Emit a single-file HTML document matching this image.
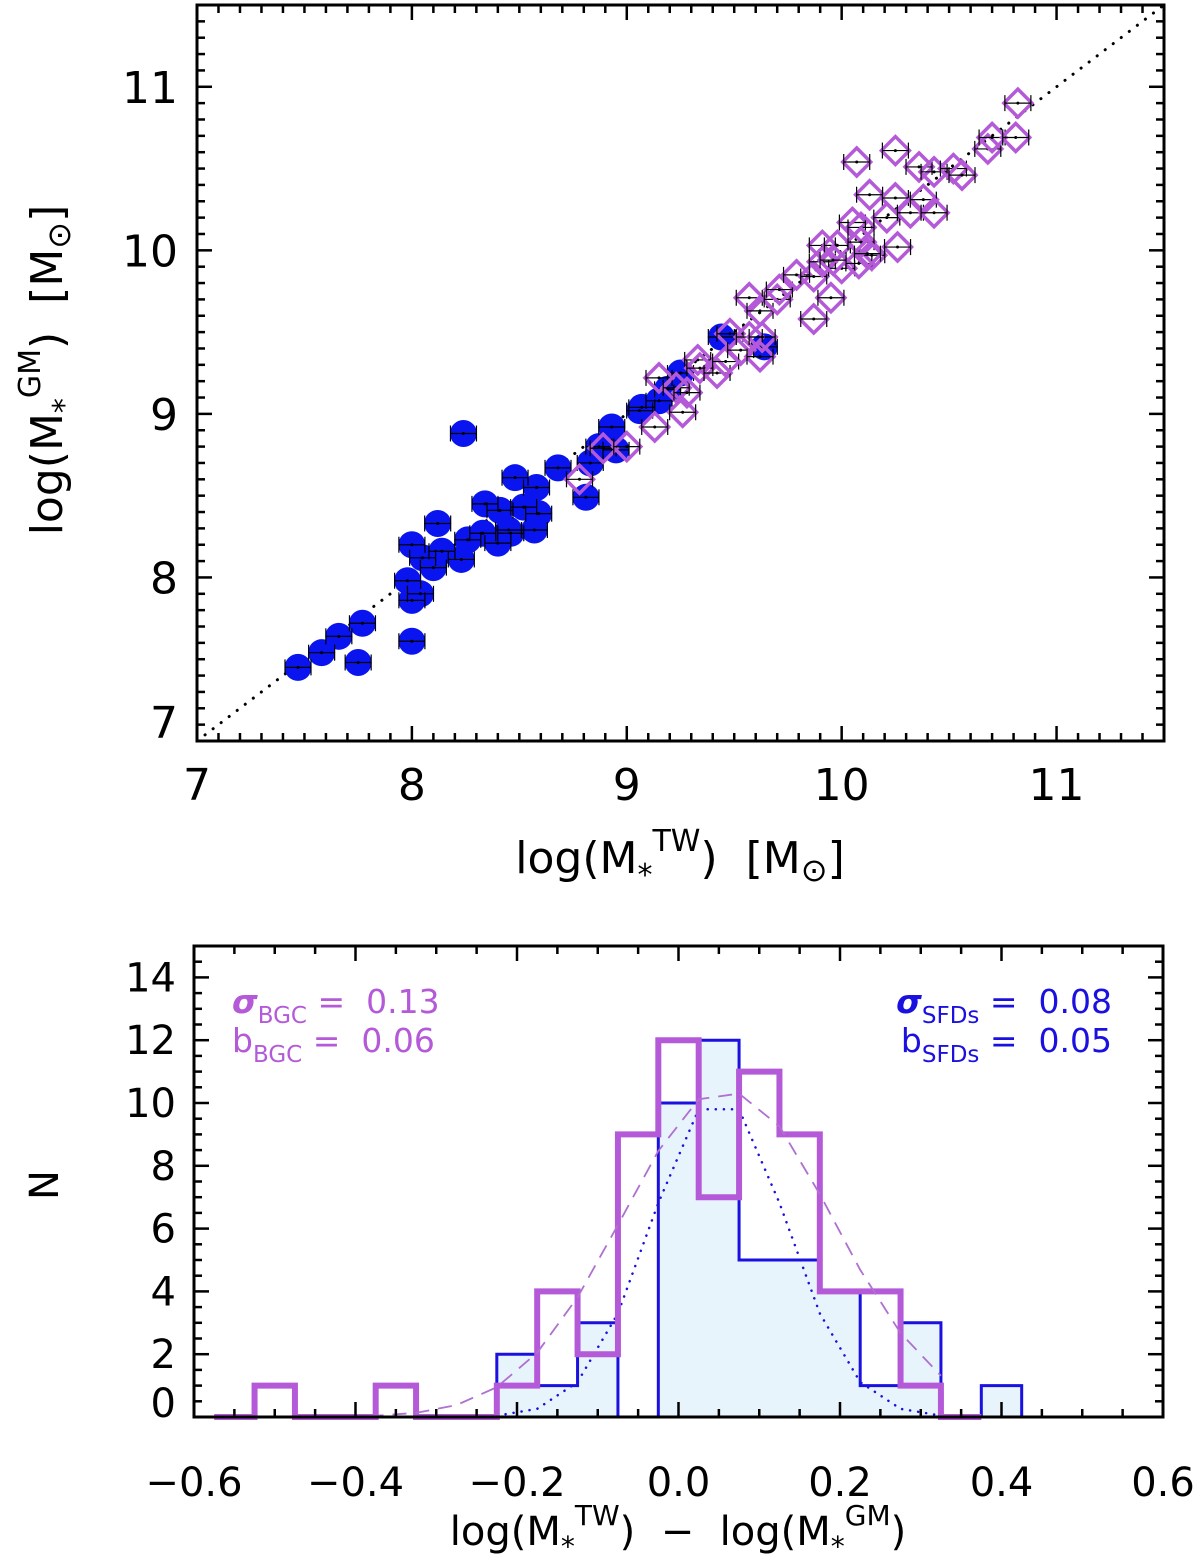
<!DOCTYPE html>
<html><head><meta charset="utf-8"><style>
html,body{margin:0;padding:0;background:#fff}
svg{display:block}
text{font-family:"DejaVu Sans","Liberation Sans",sans-serif;white-space:pre;}
</style></head><body>
<svg id="chart" width="1200" height="1564" viewBox="0 0 1200 1564" xmlns="http://www.w3.org/2000/svg" xml:space="preserve">
<g id="topPanel"></g>
<g id="botPanel"></g>
<g id="labels">
<text x="680" y="873" font-size="44" text-anchor="middle">log(M<tspan font-size="30" dy="12">*</tspan><tspan font-size="30" dy="-34">TW</tspan><tspan dy="22">)  [M</tspan><tspan font-size="32" dy="8">⊙</tspan><tspan dy="-8">]</tspan></text>
<text transform="translate(62,370) rotate(-90)" font-size="44" text-anchor="middle">log(M<tspan font-size="30" dy="12">*</tspan><tspan font-size="30" dy="-34">GM</tspan><tspan dy="22">)  [M</tspan><tspan font-size="32" dy="8">⊙</tspan><tspan dy="-8">]</tspan></text>
<text transform="translate(58,1185) rotate(-90)" font-size="40" text-anchor="middle">N</text>
<text x="678" y="1545" font-size="40" text-anchor="middle">log(M<tspan font-size="28" dy="11">*</tspan><tspan font-size="28" dy="-31">TW</tspan><tspan dy="20">)  −  log(M</tspan><tspan font-size="28" dy="11">*</tspan><tspan font-size="28" dy="-31">GM</tspan><tspan dy="20">)</tspan></text>
<text x="232" y="1013" font-size="33" fill="#b45ad8"><tspan font-style="italic" font-weight="bold">σ</tspan><tspan font-size="23" dy="10">BGC</tspan><tspan dy="-10"> =  0.13</tspan></text>
<text x="232" y="1052" font-size="33" fill="#b45ad8">b<tspan font-size="23" dy="10">BGC</tspan><tspan dy="-10"> =  0.06</tspan></text>
<text x="1112" y="1013" font-size="33" fill="#1a10e0" text-anchor="end"><tspan font-style="italic" font-weight="bold">σ</tspan><tspan font-size="23" dy="10">SFDs</tspan><tspan dy="-10"> =  0.08</tspan></text>
<text x="1112" y="1052" font-size="33" fill="#1a10e0" text-anchor="end">b<tspan font-size="23" dy="10">SFDs</tspan><tspan dy="-10"> =  0.05</tspan></text>
</g>
</svg>
<script>
const sfdsX=[7.47,7.58,7.66,7.77,7.75,8.00,7.98,8.04,8.00,8.00,8.05,8.12,8.24,8.10,8.14,8.23,8.26,8.34,8.33,8.40,8.41,8.45,8.48,8.52,8.58,8.59,8.57,8.46,8.68,8.81,8.83,8.93,8.95,8.87,9.06,9.44,9.64,9.07,9.19,9.25,9.15];
const sfdsY=[7.45,7.54,7.64,7.72,7.48,7.61,7.98,7.90,7.86,8.20,8.12,8.33,8.88,8.06,8.16,8.11,8.23,8.45,8.27,8.21,8.41,8.29,8.61,8.43,8.55,8.39,8.29,8.27,8.67,8.49,8.70,8.92,8.78,8.80,9.02,9.47,9.41,9.04,9.15,9.25,9.08];
const bgcX=[8.78,8.89,9.00,9.13,9.26,9.15,9.23,9.28,9.33,9.34,9.42,9.46,9.48,9.53,9.57,9.62,9.63,9.57,9.62,9.70,9.71,9.87,9.95,9.79,9.87,9.91,10.00,10.08,10.14,9.91,9.98,9.96,10.05,10.09,10.09,10.12,10.13,10.25,10.21,10.26,10.32,10.38,10.43,10.07,10.25,10.36,10.43,10.52,10.56,10.68,10.70,10.81,10.82];
const bgcY=[8.60,8.79,8.80,8.92,9.01,9.22,9.16,9.13,9.33,9.28,9.25,9.32,9.49,9.39,9.47,9.35,9.47,9.71,9.63,9.70,9.76,9.58,9.71,9.85,9.84,9.93,9.89,9.92,9.97,10.03,10.03,9.94,10.17,10.14,10.05,9.98,10.34,10.32,10.20,10.02,10.23,10.31,10.23,10.54,10.61,10.51,10.48,10.50,10.46,10.62,10.69,10.69,10.90];
const xTicksTop=[7,8,9,10,11];
const yTicksTop=[7,8,9,10,11];
const binEdgesStart=-0.575;
const binWidth=0.05;
const sfdsCounts=[0,0,0,0,0,0,0,2,1,3,0,10,12,5,5,4,1,3,0,1,0];
const bgcCounts=[0,1,0,0,1,0,0,1,4,2,9,12,7,11,9,4,4,1,0];
const xTicksBot=[-0.6,-0.4,-0.2,0.0,0.2,0.4,0.6];
const yTicksBot=[0,2,4,6,8,10,12,14];
const fitSfds=[9.8,0.05,0.083];
const fitBgc=[10.3,0.06,0.13];

const NS='http://www.w3.org/2000/svg';
function mk(tag,attrs,parent){const e=document.createElementNS(NS,tag);for(const k in attrs)e.setAttribute(k,attrs[k]);parent.appendChild(e);return e;}
const TA={x0:197,x1:1164,y0:741,y1:5,vmin:7,vmax:11.5};
const tx=v=>TA.x0+(v-TA.vmin)/(TA.vmax-TA.vmin)*(TA.x1-TA.x0);
const ty=v=>TA.y0-(v-TA.vmin)/(TA.vmax-TA.vmin)*(TA.y0-TA.y1);
const topG=document.getElementById('topPanel');
const oneLine=mk('line',{x1:tx(7),y1:ty(7),x2:tx(11.5),y2:ty(11.5),stroke:'#000','stroke-width':3,'stroke-dasharray':'0.1 10','stroke-linecap':'round'},topG);


function errbar(g,cx,cy){
  mk('line',{x1:cx-13,y1:cy,x2:cx+13,y2:cy,stroke:'#000','stroke-width':1.2},g);
  mk('line',{x1:cx-13,y1:cy-8,x2:cx-13,y2:cy+8,stroke:'#000','stroke-width':1.2},g);
  mk('line',{x1:cx+13,y1:cy-8,x2:cx+13,y2:cy+8,stroke:'#000','stroke-width':1.2},g);
  mk('circle',{cx:cx,cy:cy,r:1.5,fill:'#000'},g);
}
const gs=mk('g',{},topG);


for(let i=0;i<sfdsX.length;i++){
  const c=mk('circle',{cx:tx(sfdsX[i]),cy:ty(sfdsY[i]),r:13.5,fill:'#0a14ee'},gs);
  
  
}
for(let i=0;i<sfdsX.length;i++)errbar(gs,tx(sfdsX[i]),ty(sfdsY[i]));
const gb=mk('g',{},topG);


for(let i=0;i<bgcX.length;i++){
  const cx=tx(bgcX[i]),cy=ty(bgcY[i]),r=14;
  const p=mk('polygon',{points:`${cx},${cy-r} ${cx+r},${cy} ${cx},${cy+r} ${cx-r},${cy}`,fill:'none',stroke:'#b45ad8','stroke-width':3.5},gb);
  
  
  errbar(gb,cx,cy);
}
const fr=mk('rect',{x:TA.x0,y:TA.y1,width:TA.x1-TA.x0,height:TA.y0-TA.y1,fill:'none',stroke:'#000','stroke-width':3},topG);


for(let i=0;i<=45;i++){
  const v=7+i*0.1;
  const major=i%10===0,len=major?15:8,x=tx(v),y=ty(v);
  mk('line',{x1:x,y1:TA.y0,x2:x,y2:TA.y0-len,stroke:'#000','stroke-width':2.5},topG);
  mk('line',{x1:x,y1:TA.y1,x2:x,y2:TA.y1+len,stroke:'#000','stroke-width':2.5},topG);
  mk('line',{x1:TA.x0,y1:y,x2:TA.x0+len,y2:y,stroke:'#000','stroke-width':2.5},topG);
  mk('line',{x1:TA.x1,y1:y,x2:TA.x1-len,y2:y,stroke:'#000','stroke-width':2.5},topG);
}
xTicksTop.forEach(v=>{const t=mk('text',{x:tx(v),y:800,'font-size':44,'text-anchor':'middle'},topG);t.textContent=v;

});
yTicksTop.forEach(v=>{const t=mk('text',{x:178,y:ty(v)+(v===7?-3:16),'font-size':44,'text-anchor':'end'},topG);t.textContent=v;

});

const BA={x0:194,x1:1163,y0:1417,y1:946,xmin:-0.6,xmax:0.6,ymax:15};
const bx=v=>BA.x0+(v-BA.xmin)/(BA.xmax-BA.xmin)*(BA.x1-BA.x0);
const by=v=>BA.y0-v/BA.ymax*(BA.y0-BA.y1);
const botG=document.getElementById('botPanel');
function histPath(counts){
  let d=`M${bx(binEdgesStart)},${by(0)}`;
  counts.forEach((c,i)=>{const a=binEdgesStart+i*binWidth;d+=` L${bx(a)},${by(c)} L${bx(a+binWidth)},${by(c)}`;});
  d+=` L${bx(binEdgesStart+counts.length*binWidth)},${by(0)}`;return d;
}
const pf=mk('path',{d:histPath(sfdsCounts)+' Z',fill:'#e8f4fc',stroke:'none'},botG);


mk('line',{x1:BA.x0,y1:by(0),x2:bx(binEdgesStart),y2:by(0),stroke:'#1a10e0','stroke-width':3},botG);
const ps=mk('path',{d:histPath(sfdsCounts),fill:'none',stroke:'#1a10e0','stroke-width':3},botG);


function gaussPath(f){
  let d='';
  const norm=Math.exp(-Math.pow(0.025,2)/(2*f[2]*f[2]));
  for(let i=0;i<=Math.round(1.2/binWidth);i++){const x=binEdgesStart+i*binWidth;if(x<-0.56||x>0.36)continue;const y=f[0]*Math.exp(-Math.pow(x-f[1],2)/(2*f[2]*f[2]))/norm;d+=(d?' L':'M')+bx(x)+','+by(Math.min(y,f[0]));}
  return d;
}
const gd=mk('path',{d:gaussPath(fitSfds),fill:'none',stroke:'#1a10e0','stroke-width':2.5,'stroke-dasharray':'0.1 8','stroke-linecap':'round'},botG);


const pb=mk('path',{d:histPath(bgcCounts),fill:'none',stroke:'#b45ad8','stroke-width':6},botG);


const gg=mk('path',{d:gaussPath(fitBgc),fill:'none',stroke:'#b070d0','stroke-width':1.8,'stroke-dasharray':'14 9'},botG);


const fr2=mk('rect',{x:BA.x0,y:BA.y1,width:BA.x1-BA.x0,height:BA.y0-BA.y1,fill:'none',stroke:'#000','stroke-width':3},botG);


for(let i=0;i<=24;i++){const v=-0.6+i*0.05,major=i%4===0,len=major?15:8,x=bx(v);
  mk('line',{x1:x,y1:BA.y0,x2:x,y2:BA.y0-len,stroke:'#000','stroke-width':2.5},botG);
  mk('line',{x1:x,y1:BA.y1,x2:x,y2:BA.y1+len,stroke:'#000','stroke-width':2.5},botG);}
for(let i=0;i<=30;i++){const v=i*0.5,major=i%4===0,len=major?15:8,y=by(v);
  mk('line',{x1:BA.x0,y1:y,x2:BA.x0+len,y2:y,stroke:'#000','stroke-width':2.5},botG);
  mk('line',{x1:BA.x1,y1:y,x2:BA.x1-len,y2:y,stroke:'#000','stroke-width':2.5},botG);}
xTicksBot.forEach(v=>{const t=mk('text',{x:bx(v),y:1496,'font-size':40,'text-anchor':'middle'},botG);t.textContent=(v<0?'−':'')+Math.abs(v).toFixed(1);

});
yTicksBot.forEach(v=>{const t=mk('text',{x:176,y:by(v)+(v===0?0:14),'font-size':40,'text-anchor':'end'},botG);t.textContent=v;

});
</script>
</body></html>
